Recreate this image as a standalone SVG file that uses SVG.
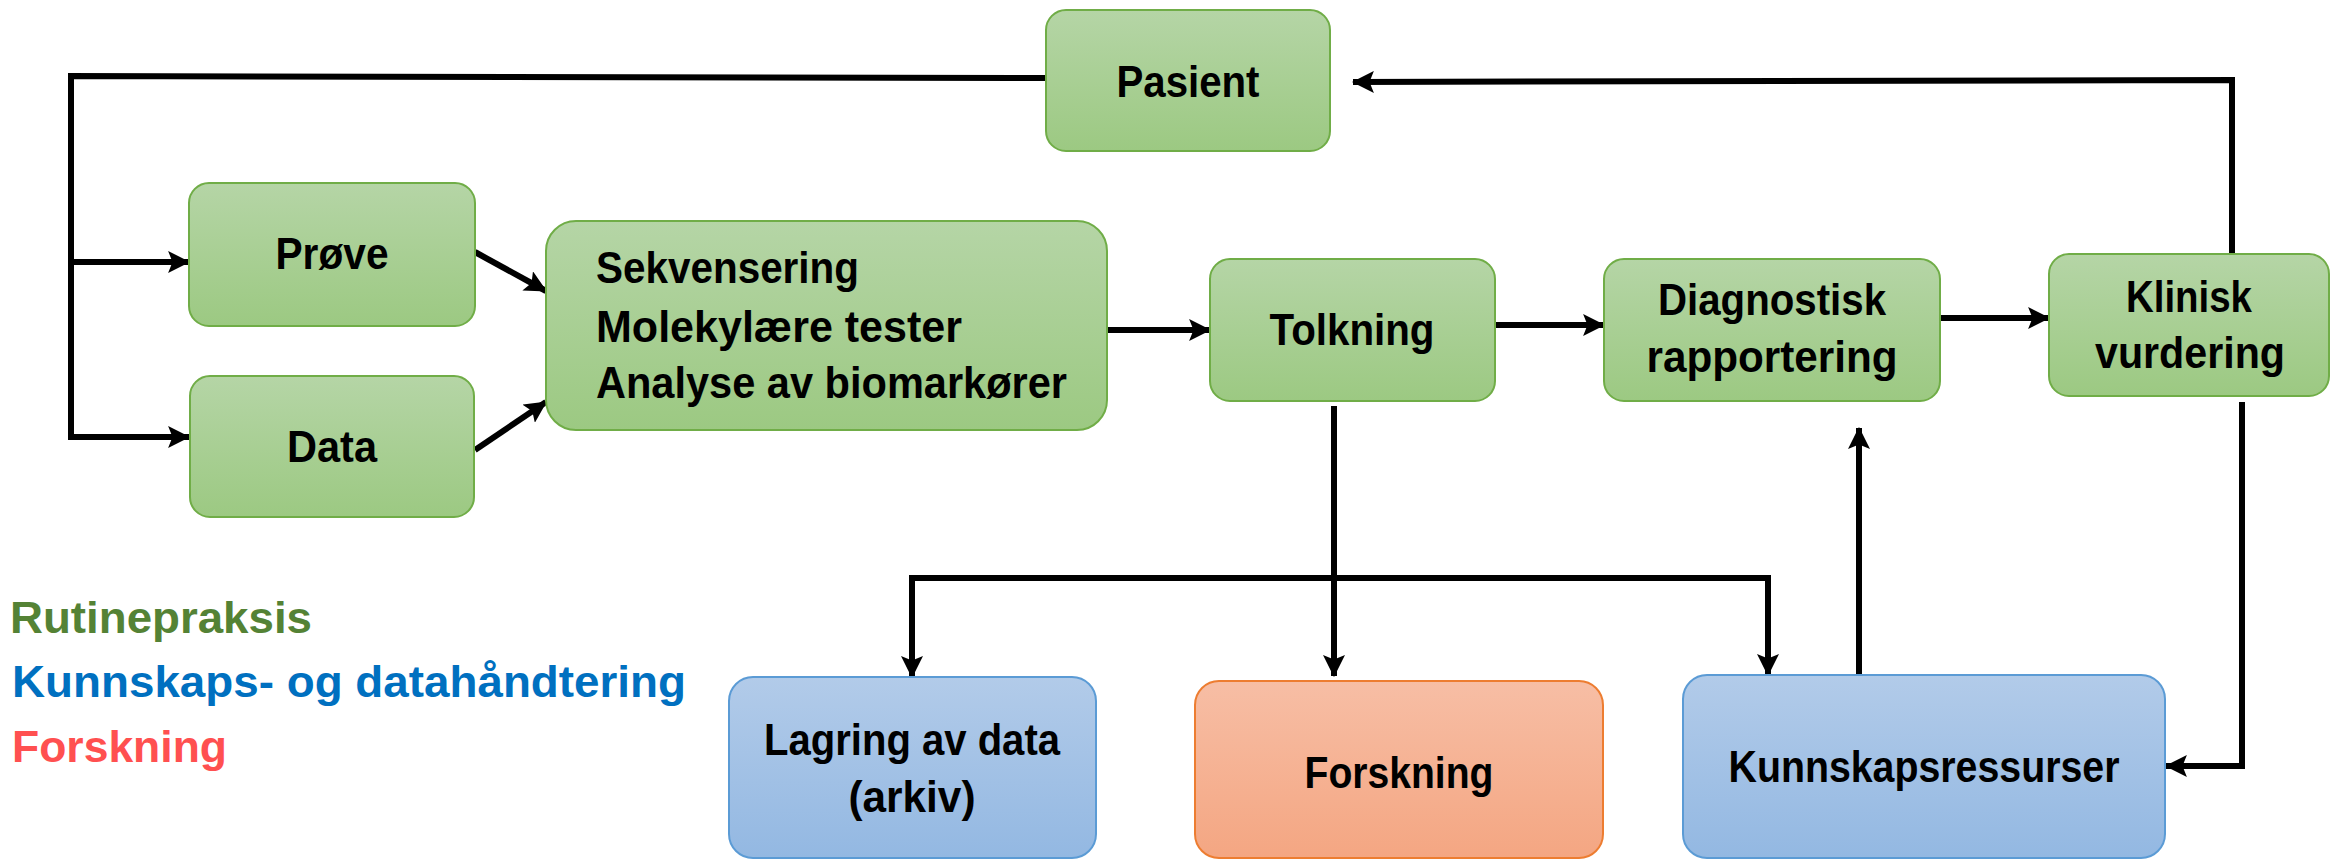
<svg xmlns="http://www.w3.org/2000/svg" width="2343" height="860" viewBox="0 0 2343 860">
<defs>
<linearGradient id="gG" x1="0" y1="0" x2="0" y2="1"><stop offset="0" stop-color="#B5D5A6"/><stop offset="1" stop-color="#9CC982"/></linearGradient>
<linearGradient id="gB" x1="0" y1="0" x2="0" y2="1"><stop offset="0" stop-color="#B2CBE9"/><stop offset="1" stop-color="#93B8E2"/></linearGradient>
<linearGradient id="gO" x1="0" y1="0" x2="0" y2="1"><stop offset="0" stop-color="#F7BEA5"/><stop offset="1" stop-color="#F4A682"/></linearGradient>
<marker id="ah" viewBox="0 0 20 20" refX="19" refY="10" markerWidth="22" markerHeight="22" orient="auto" markerUnits="userSpaceOnUse"><path d="M0,0 L20,10 L0,20 L4,10 z" fill="#000"/></marker>
</defs>
<style>
.g{fill:url(#gG);stroke:#70AD47;stroke-width:2}
.b{fill:url(#gB);stroke:#5B9BD5;stroke-width:2}
.o{fill:url(#gO);stroke:#ED7D31;stroke-width:2}
.t{font-family:"Liberation Sans",Arial,sans-serif;font-weight:bold;font-size:44px;fill:#000}
.c{text-anchor:middle}
.ln{fill:none;stroke:#000;stroke-width:6}
.a{marker-end:url(#ah)}
</style>
<g id="connectors">
<path class="ln" d="M1046,78 L71,76 L71,440"/>
<path class="ln a" d="M68,262 L189,262"/>
<path class="ln a" d="M68,437 L189,437"/>
<path class="ln a" d="M2232,254 L2232,80 L1353,82"/>
<path class="ln a" d="M475,252 L546,291"/>
<path class="ln a" d="M475,450 L546,402"/>
<path class="ln a" d="M1107,330 L1210,330"/>
<path class="ln a" d="M1495,325 L1604,325"/>
<path class="ln a" d="M1940,318 L2049,318"/>
<path class="ln a" d="M1334,406 L1334,676"/>
<path class="ln a" d="M1334,578 L912,578 L912,677"/>
<path class="ln a" d="M1334,578 L1768,578 L1768,675"/>
<path class="ln a" d="M1859,681 L1859,428"/>
<path class="ln a" d="M2242,402 L2242,766 L2166,766"/>
</g>
<g id="pasient"><rect class="g" x="1046" y="10" width="284" height="141" rx="20"/><text class="t c" x="1188" y="97" textLength="143" lengthAdjust="spacingAndGlyphs">Pasient</text></g>
<g id="prove"><rect class="g" x="189" y="183" width="286" height="143" rx="20"/><text class="t c" x="332" y="269" textLength="113" lengthAdjust="spacingAndGlyphs">Prøve</text></g>
<g id="data"><rect class="g" x="190" y="376" width="284" height="141" rx="20"/><text class="t c" x="332" y="462" textLength="90" lengthAdjust="spacingAndGlyphs">Data</text></g>
<g id="sekvensering"><rect class="g" x="546" y="221" width="561" height="209" rx="30"/>
<text class="t" x="596" y="283" textLength="263" lengthAdjust="spacingAndGlyphs">Sekvensering</text>
<text class="t" x="596" y="342" textLength="366" lengthAdjust="spacingAndGlyphs">Molekylære tester</text>
<text class="t" x="596" y="398" textLength="471" lengthAdjust="spacingAndGlyphs">Analyse av biomarkører</text></g>
<g id="tolkning"><rect class="g" x="1210" y="259" width="285" height="142" rx="20"/><text class="t c" x="1352" y="345" textLength="165" lengthAdjust="spacingAndGlyphs">Tolkning</text></g>
<g id="diagnostisk"><rect class="g" x="1604" y="259" width="336" height="142" rx="20"/>
<text class="t c" x="1772" y="315" textLength="228" lengthAdjust="spacingAndGlyphs">Diagnostisk</text>
<text class="t c" x="1772" y="372" textLength="251" lengthAdjust="spacingAndGlyphs">rapportering</text></g>
<g id="klinisk"><rect class="g" x="2049" y="254" width="280" height="142" rx="20"/>
<text class="t c" x="2189" y="312" textLength="126" lengthAdjust="spacingAndGlyphs">Klinisk</text>
<text class="t c" x="2190" y="368" textLength="190" lengthAdjust="spacingAndGlyphs">vurdering</text></g>
<g id="lagring"><rect class="b" x="729" y="677" width="367" height="181" rx="24"/>
<text class="t c" x="912" y="755" textLength="296" lengthAdjust="spacingAndGlyphs">Lagring av data</text>
<text class="t c" x="912" y="812" textLength="127" lengthAdjust="spacingAndGlyphs">(arkiv)</text></g>
<g id="forskning"><rect class="o" x="1195" y="681" width="408" height="177" rx="24"/><text class="t c" x="1399" y="788" textLength="189" lengthAdjust="spacingAndGlyphs">Forskning</text></g>
<g id="kunnskapsressurser"><rect class="b" x="1683" y="675" width="482" height="183" rx="24"/><text class="t c" x="1924" y="782" textLength="391" lengthAdjust="spacingAndGlyphs">Kunnskapsressurser</text></g>
<g id="legend">
<text class="t" x="10" y="633" textLength="302" lengthAdjust="spacingAndGlyphs" style="fill:#548235">Rutinepraksis</text>
<text class="t" x="12" y="697" textLength="674" lengthAdjust="spacingAndGlyphs" style="fill:#0070C0">Kunnskaps- og datahåndtering</text>
<text class="t" x="12" y="762" textLength="215" lengthAdjust="spacingAndGlyphs" style="fill:#FF5050">Forskning</text>
</g>
</svg>
